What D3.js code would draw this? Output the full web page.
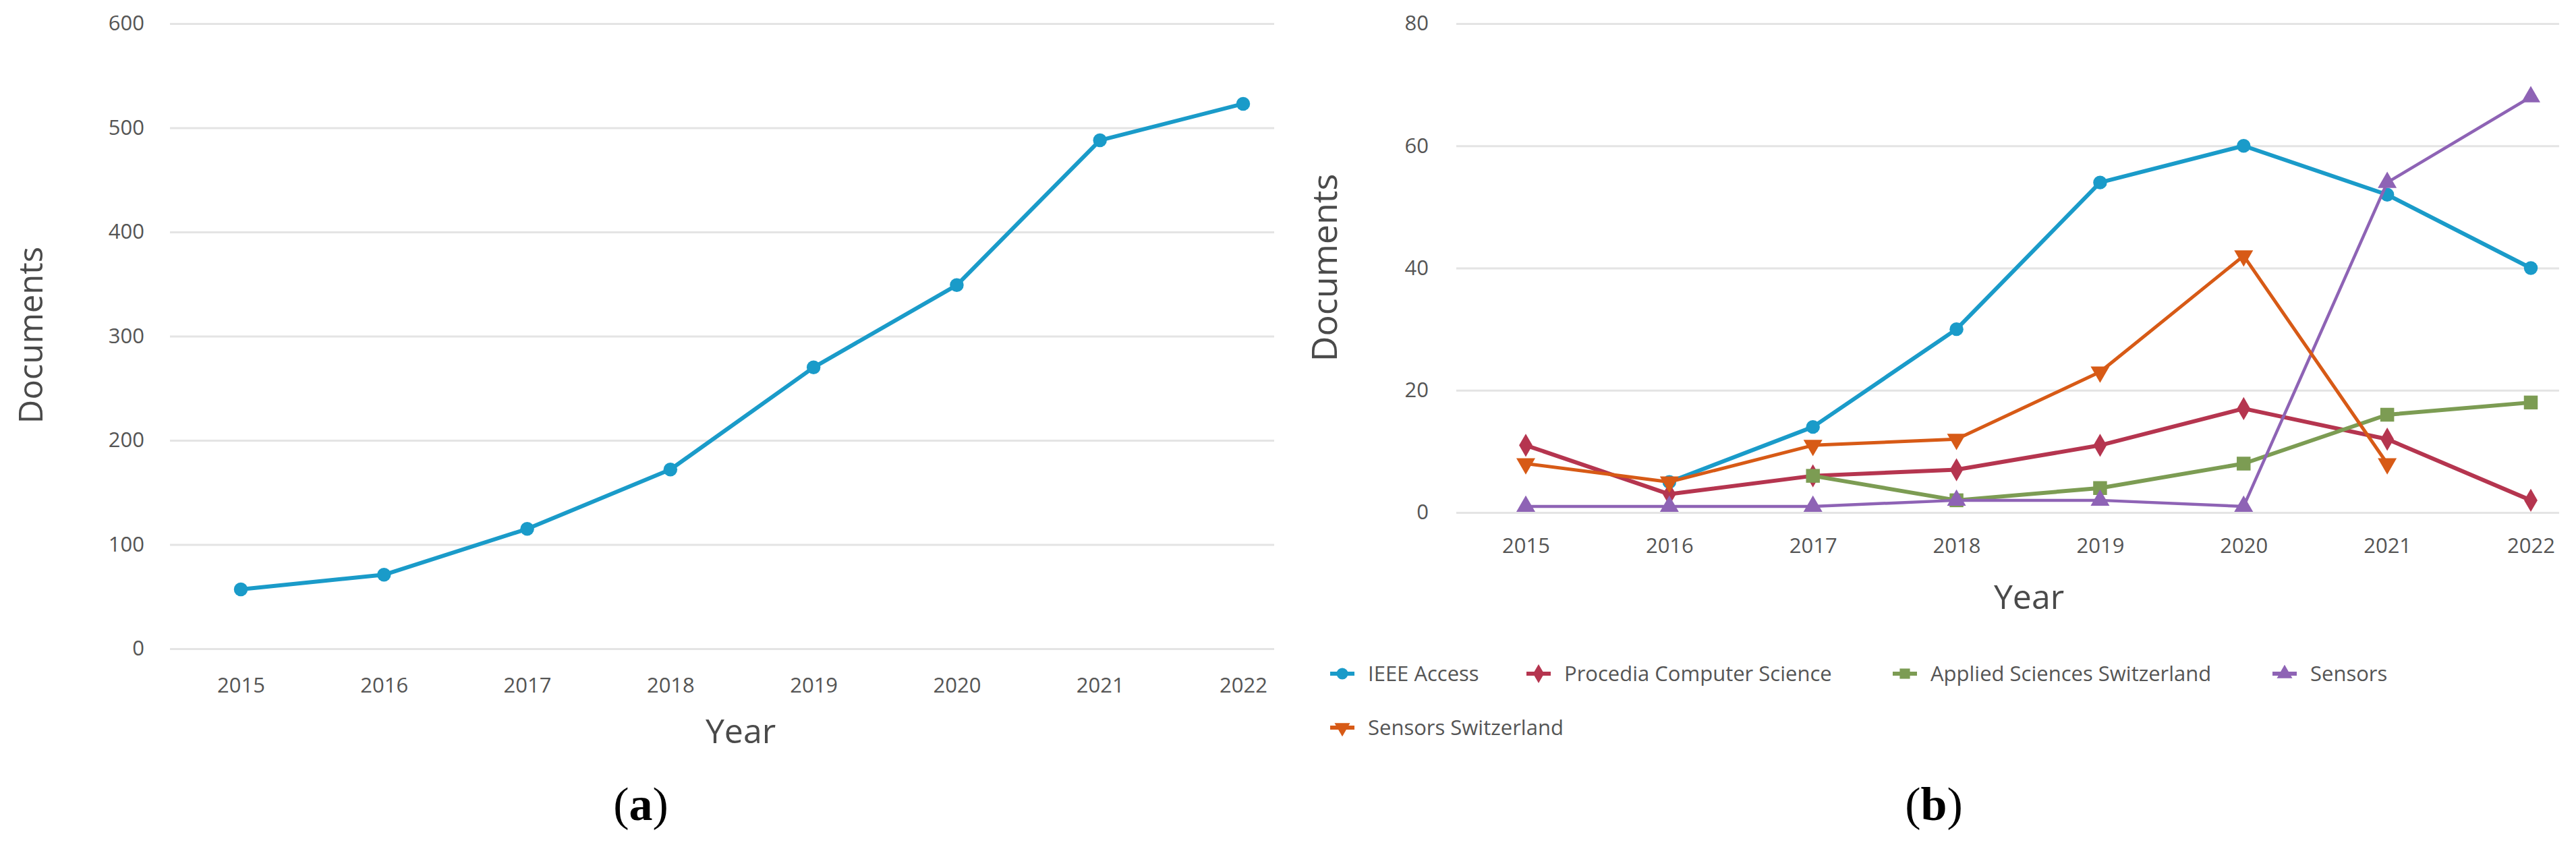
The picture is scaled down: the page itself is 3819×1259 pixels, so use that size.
<!DOCTYPE html>
<html>
<head>
<meta charset="utf-8">
<style>
body { margin: 0; background: #fff; }
text { font-family: "Open Sans", sans-serif; }
</style>
</head>
<body>
<svg id="chart" width="3819" height="1259"></svg>
<script src="https://d3js.org/d3.v7.min.js"></script>
<script>
// data
var years = [2015, 2016, 2017, 2018, 2019, 2020, 2021, 2022]
var totalDocs = [57, 71, 115, 172, 270, 349, 488, 523]
var leftTicks = [0, 100, 200, 300, 400, 500, 600]
var rightTicks = [0, 20, 40, 60, 80]

var seriesNames = ["IEEE Access", "Procedia Computer Science", "Applied Sciences Switzerland", "Sensors", "Sensors Switzerland"]
var ieeeAccess = [null, 5, 14, 30, 54, 60, 52, 40]
var procedia = [11, 3, 6, 7, 11, 17, 12, 2]
var appliedSci = [null, null, 6, 2, 4, 8, 16, 18]
var sensors = [1, 1, 1, 2, 2, 1, 54, 68]
var sensorsCH = [8, 5, 11, 12, 23, 42, 8, null]

var colors = ["#1a9bc9", "#b5354f", "#7c9c53", "#8e63b5", "#d75a16"]
var shapes = [d3.symbolCircle, d3.symbolDiamond, d3.symbolSquare, d3.symbolTriangle, d3.symbolTriangle]
var shapeSize = [330, 340, 420, 340, 340]
var rotate = [0, 0, 0, 0, 180]

var svg = d3.select('#chart')
svg.append('rect').attr('width', 3819).attr('height', 1259).attr('fill', '#fff')

function panel(opt) {
  var g = svg.append('g')
  var x = d3.scalePoint().domain(years).range(opt.xr)
  var y = d3.scaleLinear().domain(opt.yd).range(opt.yr)

  var ya = g.append('g')
    .attr('transform', 'translate(' + opt.grid[0] + ',0)')
    .call(d3.axisLeft(y).tickValues(opt.ticks).tickSize(-(opt.grid[1] - opt.grid[0])).tickPadding(opt.grid[0] - opt.labelEnd))
  ya.select('.domain').remove()
  ya.selectAll('line').attr('stroke', '#e4e4e4').attr('stroke-width', 3)
  ya.selectAll('text').attr('fill', '#555').style('font-size', '31px').style('font-family', '"Open Sans", sans-serif')

  var xa = g.append('g')
    .attr('transform', 'translate(0,' + y(0) + ')')
    .call(d3.axisBottom(x).tickSize(0).tickPadding(opt.xpad))
  xa.select('.domain').remove()
  xa.selectAll('text').attr('fill', '#555').style('font-size', '31px').style('font-family', '"Open Sans", sans-serif')

  g.append('text').text('Year')
    .attr('x', opt.yearPos[0]).attr('y', opt.yearPos[1])
    .attr('text-anchor', 'middle').attr('fill', '#4a4a4a').style('font-size', '50px')
  g.append('text').text('Documents')
    .attr('transform', 'translate(' + opt.docPos[0] + ',' + opt.docPos[1] + ') rotate(-90)')
    .attr('text-anchor', 'middle').attr('dy', '0.35em').attr('fill', '#4a4a4a').style('font-size', opt.docSize + 'px')

  g.append('text')
    .attr('x', opt.tag[0]).attr('y', opt.tag[1])
    .attr('text-anchor', 'middle')
    .style('font-family', '"Liberation Serif", serif').style('font-size', '70px')
    .html('(<tspan font-weight="bold">' + opt.letter + '</tspan>)')

  return {g: g, x: x, y: y}
}

function drawSeries(p, vals, i, width) {
  var pts = years.map(function(yr, k) { return {yr: yr, v: vals[k]} }).filter(function(d) { return d.v != null })
  var line = d3.line().x(function(d) { return p.x(d.yr) }).y(function(d) { return p.y(d.v) })
  p.g.append('path').datum(pts)
    .attr('d', line).attr('fill', 'none')
    .attr('stroke', colors[i]).attr('stroke-width', width)
    .attr('stroke-linejoin', 'round')
  p.g.selectAll('.m' + i).data(pts).enter().append('path')
    .attr('d', d3.symbol().type(shapes[i]).size(shapeSize[i]))
    .attr('transform', function(d) { return 'translate(' + p.x(d.yr) + ',' + p.y(d.v) + ') rotate(' + rotate[i] + ')' })
    .attr('fill', colors[i])
}

// (a)
var a = panel({
  xr: [357, 1843], yd: [0, 600], yr: [962, 35], ticks: leftTicks,
  grid: [252, 1889], labelEnd: 214, xpad: 43,
  yearPos: [1098, 1102], docPos: [46, 497], docSize: 49,
  tag: [950, 1216], letter: 'a'
})
drawSeries(a, totalDocs, 0, 6)

// (b)
var b = panel({
  xr: [2262, 3752], yd: [0, 80], yr: [760, 35], ticks: rightTicks,
  grid: [2159, 3794], labelEnd: 2118, xpad: 38,
  yearPos: [3008, 903], docPos: [1964, 397], docSize: 52,
  tag: [2867, 1216], letter: 'b'
})
var allSeries = [ieeeAccess, procedia, appliedSci, sensors, sensorsCH]
var widths = [6, 6, 6, 4.5, 5]
allSeries.forEach(function(s, i) { drawSeries(b, s, i, widths[i]) })

// legend: two rows, item start positions
var legendX = [1990, 2281, 2824, 3387, 1990]
var legendY = [999, 999, 999, 999, 1079]
seriesNames.forEach(function(name, i) {
  var it = svg.append('g').attr('transform', 'translate(' + legendX[i] + ',' + legendY[i] + ')')
  it.append('line').attr('x1', -18).attr('x2', 18).attr('stroke', colors[i]).attr('stroke-width', 6)
  it.append('path').attr('d', d3.symbol().type(shapes[i]).size(230)).attr('transform', 'rotate(' + rotate[i] + ')').attr('fill', colors[i])
  it.append('text').text(name).attr('x', 38).attr('dy', '0.35em')
    .attr('fill', '#555').style('font-size', '31px')
})
</script>
</body>
</html>
